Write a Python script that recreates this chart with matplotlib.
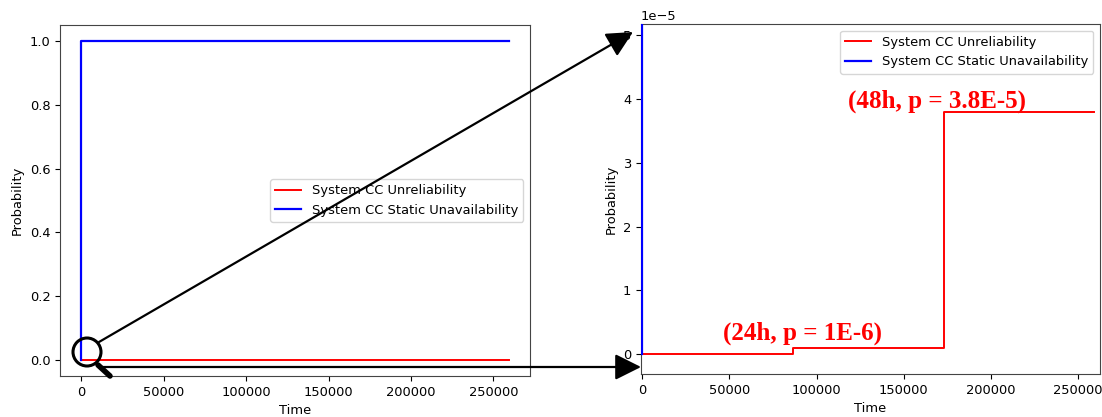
import matplotlib
matplotlib.use("Agg")
import matplotlib.pyplot as plt
from matplotlib.patches import FancyArrowPatch, Ellipse
from matplotlib.lines import Line2D

# time in seconds (24h = 86400 s)
t_unrel = [0, 86400, 172800, 259200]
p_unrel = [0.0, 1e-6, 3.8e-5, 3.8e-5]
t_unavail = [0, 0, 259200]
p_unavail = [0.0, 1.0, 1.0]

labels = ["System CC Unreliability", "System CC Static Unavailability"]
note_24h = "(24h, p = 1E-6)"
note_48h = "(48h, p = 3.8E-5)"

plt.rcParams["font.size"] = 9.4

W, H = 1102, 417
fig = plt.figure(figsize=(W / 100, H / 100), dpi=100)

ax1 = fig.add_axes([60 / W, 1 - 376 / H, 470 / W, 351 / H])
ax2 = fig.add_axes([641 / W, 1 - 374 / H, 459 / W, 350 / H])

for ax in (ax1, ax2):
    ax.plot(t_unrel, p_unrel, color="red", lw=1.4, drawstyle="steps-post", label=labels[0], zorder=3)
    ax.plot(t_unavail, p_unavail, color="blue", lw=1.6, label=labels[1], zorder=3)
    ax.set_xlabel("Time")
    ax.set_ylabel("Probability")
    ax.set_xticks([0, 50000, 100000, 150000, 200000, 250000])
    for s in ax.spines.values():
        s.set_color("#444444")

ax1.legend(loc="center right")

ax2.set_xlim(-700, 262500)
ax2.set_ylim(-0.31e-5, 5.18e-5)
ax2.legend(loc="upper right")
ax2.text(118000, 3.87e-5, note_48h, color="red", fontsize=18, fontweight="bold",
         family="Liberation Serif", va="baseline")
ax2.text(46300, 0.23e-5, note_24h, color="red", fontsize=18, fontweight="bold",
         family="Liberation Serif", va="baseline")


def fx(px):
    return px / W


def fy(py):
    return 1 - py / H


# magnifier and zoom arrows
fig.add_artist(Ellipse((fx(87), fy(352)), 2 * 14 / W, 2 * 14 / H, transform=fig.transFigure,
                       fill=False, ec="black", lw=2.2))
fig.add_artist(Line2D([fx(98), fx(110)], [fy(365), fy(376)], transform=fig.transFigure,
                      color="black", lw=4, solid_capstyle="round"))
fig.add_artist(FancyArrowPatch((fx(99), fy(342)), (fx(633), fy(32)), transform=fig.transFigure,
                               arrowstyle="-|>,head_length=10,head_width=5", color="black",
                               lw=1.6, shrinkA=0, shrinkB=0, mutation_scale=1.6))
fig.add_artist(FancyArrowPatch((fx(100), fy(367)), (fx(641), fy(367)), transform=fig.transFigure,
                               arrowstyle="-|>,head_length=10,head_width=5", color="black",
                               lw=1.6, shrinkA=0, shrinkB=0, mutation_scale=1.6))

fig.savefig("out.png", dpi=100)
